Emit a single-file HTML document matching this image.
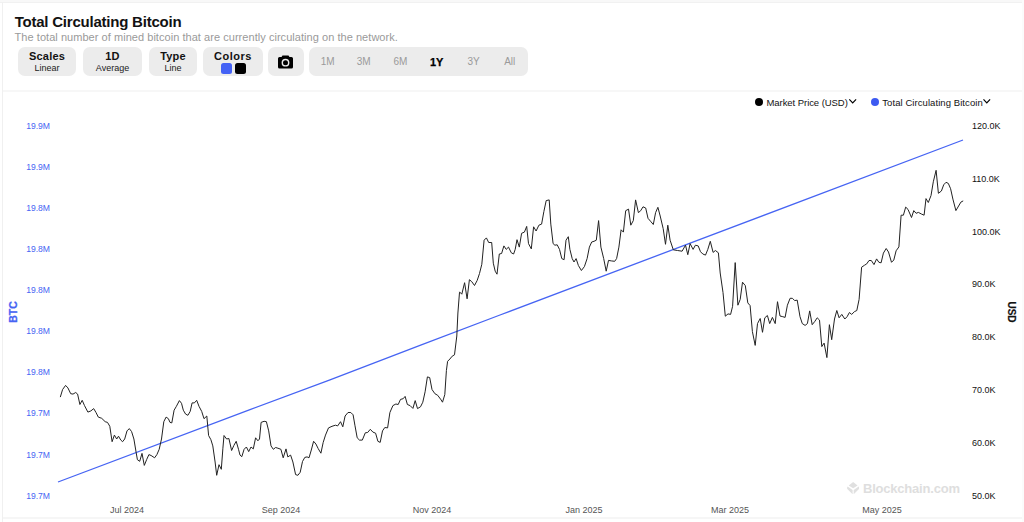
<!DOCTYPE html>
<html><head><meta charset="utf-8">
<style>
html,body{margin:0;padding:0;background:#fff;}
body{width:1024px;height:522px;position:relative;overflow:hidden;font-family:"Liberation Sans",sans-serif;}
.abs{position:absolute;}
.title{left:14.7px;top:13px;font-size:15px;font-weight:bold;color:#121212;letter-spacing:-0.22px;line-height:17px;white-space:nowrap;}
.sub{left:14.6px;top:31px;font-size:11px;letter-spacing:0.045px;color:#9a9a9a;line-height:13px;white-space:nowrap;}
.btn{top:47px;height:29px;background:#ececec;border-radius:7px;text-align:center;}
.btn b{display:block;font-size:11px;line-height:12px;margin-top:3px;color:#121212;letter-spacing:0.2px;}
.btn span{display:block;font-size:9px;line-height:10px;color:#222;margin-top:1px;}
.rng{top:56px;font-size:10px;color:#9a9a9a;line-height:12px;width:30px;text-align:center;}
.yl{left:25px;font-size:9px;color:#4664f3;line-height:10px;transform:scaleX(0.955);transform-origin:100% 50%;}
.yr{left:972px;font-size:9px;color:#121212;line-height:10px;}
.xl{top:505px;font-size:9px;color:#555;line-height:10px;width:60px;text-align:center;}
.lg{top:98px;font-size:9.5px;color:#121212;line-height:10px;white-space:nowrap;}
</style></head><body>
<div class="abs" style="left:0;top:0;width:1024px;height:2px;background:#f8f8f8"></div>
<div class="abs" style="left:0px;top:2px;width:1024px;height:1px;background:#f1f1f1"></div>
<div class="abs" style="left:2px;top:2px;width:1px;height:520px;background:#f0f0f0"></div>
<div class="abs" style="left:1022px;top:0;width:2px;height:522px;background:#fbfbfb"></div>
<div class="abs" style="left:3px;top:90px;width:1019px;height:2px;background:#f7f7f7"></div>
<div class="abs" style="left:3px;top:517px;width:1019px;height:2px;background:#f6f6f6"></div>

<div class="abs title">Total Circulating Bitcoin</div>
<div class="abs sub">The total number of mined bitcoin that are currently circulating on the network.</div>

<div class="abs btn" style="left:18px;width:58px"><b>Scales</b><span>Linear</span></div>
<div class="abs btn" style="left:83px;width:59px"><b>1D</b><span>Average</span></div>
<div class="abs btn" style="left:149px;width:48px"><b>Type</b><span>Line</span></div>
<div class="abs btn" style="left:203px;width:60px"><b style="letter-spacing:0.5px">Colors</b>
  <i class="abs" style="left:17.8px;top:16px;width:11px;height:11px;border-radius:2.5px;background:#4462f5"></i>
  <i class="abs" style="left:32.3px;top:16px;width:11px;height:11px;border-radius:2.5px;background:#000"></i>
</div>
<div class="abs btn" style="left:268px;width:36px">
<svg class="abs" style="left:10.1px;top:7.6px" width="15" height="14" viewBox="0 0 15 14"><path d="M4.5 0.5 L3.5 2 H1.5 A1.5 1.5 0 0 0 0 3.5 V12 A1.5 1.5 0 0 0 1.5 13.5 H13.5 A1.5 1.5 0 0 0 15 12 V3.5 A1.5 1.5 0 0 0 13.5 2 H11.5 L10.5 0.5 Z" fill="#000"/><circle cx="7.5" cy="7.7" r="3.9" fill="#ececec"/><circle cx="7.5" cy="7.7" r="2.5" fill="#000"/></svg>
</div>
<div class="abs btn" style="left:308.5px;width:219px"></div>
<div class="abs rng" style="left:312.7px">1M</div>
<div class="abs rng" style="left:348.7px">3M</div>
<div class="abs rng" style="left:385.5px">6M</div>
<div class="abs rng" style="left:421.7px;color:#000;font-weight:bold;font-size:11px;-webkit-text-stroke:0.25px #000">1Y</div>
<div class="abs rng" style="left:458.5px">3Y</div>
<div class="abs rng" style="left:494.7px">All</div>

<div class="abs" style="left:755px;top:98px;width:8px;height:8px;border-radius:50%;background:#000"></div>
<div class="abs lg" style="left:766.5px;letter-spacing:-0.06px">Market Price (USD)</div>
<div class="abs" style="left:871px;top:98px;width:8px;height:8px;border-radius:50%;background:#3d5af1"></div>
<div class="abs lg" style="left:882.3px;letter-spacing:0.07px">Total Circulating Bitcoin</div>
<svg class="abs" style="left:0;top:0" width="1024" height="522" viewBox="0 0 1024 522">
<path d="M849.3 99.3 l3.4 3.7 l3.4 -3.7" fill="none" stroke="#000" stroke-width="1.15"/>
<path d="M983.5 99.3 l3.3 3.7 l3.3 -3.7" fill="none" stroke="#000" stroke-width="1.15"/>
<polyline points="58,482 250,409.6 330,379.8 420,345.4 500,315 963,140" fill="none" stroke="#4664f3" stroke-width="1.3"/>
<polyline points="60.3,397.1 62.6,389.5 65.6,385.4 67.9,387.9 70.7,393.7 73.0,394.1 75.7,392.5 77.6,394.1 79.9,404.5 82.2,400.3 84.5,405.6 87.9,412.1 90.9,410.9 93.7,408.6 96.0,412.5 98.3,417.1 101.7,418.3 105.2,421.7 107.5,422.4 109.8,426.3 112.1,441.7 114.4,435.1 116.7,439.0 118.5,436.2 120.8,440.1 122.6,441.7 124.7,439.0 127.0,430.9 129.3,428.6 131.6,431.6 133.9,439.0 136.2,452.8 137.4,459.7 139.7,461.3 142.0,453.4 144.3,465.4 146.6,459.7 148.9,454.6 151.1,455.5 154.6,457.8 156.9,454.6 159.2,449.3 161.5,439.0 163.8,421.7 166.1,417.1 168.4,418.7 170.0,422.4 171.8,422.9 174.1,410.2 176.4,406.3 179.4,400.6 181.5,403.3 183.3,410.2 185.6,414.1 187.9,415.3 190.2,411.4 192.1,402.9 194.4,402.9 196.7,400.3 199.0,406.3 201.7,411.4 204.0,418.7 206.8,416.0 208.6,435.5 210.9,439.7 212.8,445.9 215.1,462.0 216.7,475.3 219.0,464.7 221.3,469.3 222.9,448.2 224.0,435.5 226.6,439.0 228.9,438.5 231.6,450.5 233.9,445.4 236.2,441.3 238.5,449.3 240.0,455.1 241.8,456.7 244.1,449.3 246.4,447.0 248.7,451.6 251.0,447.0 253.3,448.9 255.6,437.8 257.9,440.8 259.5,439.0 261.1,422.4 264.1,421.3 266.4,421.7 268.7,430.9 271.0,445.9 273.3,449.3 275.6,447.5 277.9,448.2 280.9,449.3 283.2,457.8 286.0,448.9 287.8,456.9 290.6,455.1 292.9,462.0 295.6,474.6 297.9,475.3 300.2,472.3 302.5,461.5 304.8,457.4 307.1,456.9 309.0,457.8 311.3,450.0 313.6,441.3 315.9,444.0 318.2,448.6 320.9,453.2 323.2,442.4 325.5,435.1 328.5,427.9 332.0,426.3 335.4,425.2 337.7,425.9 340.5,421.7 342.8,426.8 345.1,416.0 348.0,412.5 350.8,412.5 353.1,414.8 354.9,425.2 357.2,437.8 359.5,440.1 362.3,440.1 365.3,432.8 367.6,432.5 370.3,429.3 372.9,432.1 375.6,433.2 377.9,441.3 380.2,442.4 382.5,430.9 384.8,427.5 387.6,427.9 389.9,412.5 392.9,405.6 395.9,404.0 398.2,404.5 400.5,399.4 403.2,398.7 405.1,396.4 407.4,404.5 410.1,405.6 412.9,408.4 415.2,400.6 417.5,408.6 420.5,406.8 422.8,402.2 425.1,391.8 427.4,376.9 429.7,377.6 432.0,389.5 434.9,393.7 437.7,395.3 441.1,399.9 442.5,402.2 444.8,394.6 446.4,370.5 447.6,361.3 449.9,359.0 452.2,356.2 454.5,354.8 456.8,336.0 457.9,313.0 459.5,292.3 459.5,291.9 461.8,294.2 464.6,282.7 467.1,298.8 469.4,279.7 471.7,281.6 474.5,285.5 477.2,280.4 479.5,273.5 481.8,264.3 484.1,240.2 486.4,237.9 488.7,242.5 491.7,242.5 493.3,263.2 495.2,271.2 497.0,274.2 499.3,254.0 501.6,253.5 503.9,245.9 506.2,249.4 508.5,247.1 511.3,252.8 513.6,254.0 515.2,249.4 517.0,239.7 519.3,247.1 521.6,233.3 524.4,232.1 526.7,226.4 528.5,243.6 531.3,248.9 533.6,226.8 536.1,231.0 538.9,225.2 541.6,224.1 543.9,211.4 546.2,200.6 549.2,199.9 550.8,224.1 553.1,243.6 554.9,245.2 557.2,244.8 559.5,249.4 561.8,258.6 564.1,259.7 566.0,240.2 568.3,236.7 569.9,249.4 572.2,258.6 574.0,262.0 576.1,258.6 578.4,265.5 581.4,270.5 584.4,266.6 587.1,258.6 589.4,247.1 591.7,242.0 594.0,241.3 596.3,240.2 598.6,220.6 600.9,247.1 603.7,258.6 606.2,271.2 608.5,260.4 611.3,260.9 614.7,261.3 616.6,258.6 618.9,247.1 621.1,229.8 623.4,232.1 623.4,232.1 625.7,210.7 628.5,209.1 630.8,225.2 633.3,220.6 635.6,199.9 638.4,212.6 640.7,210.7 643.0,206.8 645.7,208.0 648.0,218.3 651.0,221.8 653.3,224.5 655.6,212.6 657.9,207.3 660.2,216.0 663.2,228.7 665.5,244.3 667.8,225.2 670.1,240.2 673.3,249.8 677.5,250.5 682.1,251.2 685.5,245.2 687.8,254.7 690.1,243.6 693.1,249.4 695.4,245.2 698.2,245.9 700.5,251.7 702.8,254.0 705.5,255.1 707.8,249.4 710.3,241.3 713.1,252.4 715.4,250.5 718.4,252.8 720.2,273.0 723.0,292.5 725.3,316.2 728.0,313.9 730.6,314.4 732.6,306.3 735.2,262.6 737.9,305.2 740.2,299.4 742.5,282.2 745.3,285.6 747.8,302.9 750.1,305.6 752.4,331.6 755.2,345.4 757.5,323.6 760.2,318.5 762.5,332.3 764.8,317.8 767.4,315.5 769.7,323.6 772.4,317.4 775.2,323.6 777.5,301.7 780.0,316.0 782.8,316.7 785.1,317.4 787.4,305.2 790.1,298.3 792.4,298.3 794.7,300.6 797.2,300.1 800.0,316.7 802.3,323.6 805.1,325.4 807.4,323.6 809.7,310.9 812.2,324.7 814.9,321.3 817.2,317.8 819.5,320.1 821.8,346.6 824.1,343.1 826.9,357.6 829.4,324.7 831.7,339.7 834.5,319.0 836.8,310.5 839.1,317.8 841.8,314.4 844.8,319.0 847.1,316.7 849.4,312.5 851.7,314.4 854.5,311.6 856.8,310.5 859.1,299.4 861.6,267.2 864.4,265.3 866.7,263.9 869.0,260.5 871.3,260.5 874.0,264.6 876.6,258.9 878.9,262.3 881.1,262.8 883.4,253.1 886.2,248.5 888.5,252.0 891.5,262.3 893.8,260.0 896.1,250.8 898.9,246.9 901.1,215.2 903.4,215.2 905.7,207.1 908.0,209.4 911.5,217.5 913.8,210.6 916.1,213.3 918.4,212.4 921.4,214.0 924.1,215.2 926.0,198.6 928.3,202.5 931.0,195.6 933.3,181.8 936.1,170.3 938.4,193.3 941.4,191.0 943.7,184.8 946.0,182.3 948.3,183.4 950.6,188.7 952.9,199.1 955.9,210.6 958.6,206.0 960.9,202.1 963.2,200.9" fill="none" stroke="#222" stroke-width="1" stroke-linejoin="round"/>
</svg>
<div class="abs yl" style="top:121px">19.9M</div>
<div class="abs yl" style="top:162px">19.9M</div>
<div class="abs yl" style="top:203px">19.8M</div>
<div class="abs yl" style="top:244px">19.8M</div>
<div class="abs yl" style="top:285px">19.8M</div>
<div class="abs yl" style="top:326px">19.8M</div>
<div class="abs yl" style="top:367px">19.8M</div>
<div class="abs yl" style="top:408px">19.7M</div>
<div class="abs yl" style="top:450px">19.7M</div>
<div class="abs yl" style="top:491px">19.7M</div>
<div class="abs yr" style="top:120.5px">120.0K</div>
<div class="abs yr" style="top:173.5px">110.0K</div>
<div class="abs yr" style="top:226.5px">100.0K</div>
<div class="abs yr" style="top:278.5px">90.0K</div>
<div class="abs yr" style="top:331.5px">80.0K</div>
<div class="abs yr" style="top:384.5px">70.0K</div>
<div class="abs yr" style="top:437.5px">60.0K</div>
<div class="abs yr" style="top:490.5px">50.0K</div>
<div class="abs xl" style="left:97px">Jul 2024</div>
<div class="abs xl" style="left:251px">Sep 2024</div>
<div class="abs xl" style="left:402px">Nov 2024</div>
<div class="abs xl" style="left:554px">Jan 2025</div>
<div class="abs xl" style="left:700px">Mar 2025</div>
<div class="abs xl" style="left:852px">May 2025</div>
<div class="abs" style="left:9px;top:311px;font-size:10.5px;font-weight:bold;color:#4664f3;transform:rotate(-90deg);transform-origin:left top;line-height:10px;width:24px;text-align:center;top:323.7px;left:8.2px;letter-spacing:-0.1px;-webkit-text-stroke:0.3px #4664f3">BTC</div>
<div class="abs" style="font-size:10px;font-weight:bold;color:#121212;transform:rotate(90deg);transform-origin:left top;line-height:10px;width:22px;text-align:center;top:300.7px;left:1016.3px;letter-spacing:-0.1px;-webkit-text-stroke:0.2px #121212">USD</div>
<div class="abs" style="left:863px;top:481px;font-size:13px;font-weight:bold;color:#dedede;line-height:15px;letter-spacing:-0.21px">Blockchain.com</div>
<svg class="abs" style="left:846.6px;top:482px" width="12.3" height="12.3" viewBox="0 0 12.3 12.3"><path d="M6.15 0 L10.6 3.4 L6.15 6.3 L1.7 3.4 Z M0.6 4.6 L5.6 7.9 V12.3 L0.3 6.9 Q-0.3 5.8 0.6 4.6 Z M11.7 4.6 L6.7 7.9 V12.3 L12 6.9 Q12.6 5.8 11.7 4.6 Z" fill="#e0e0e0"/></svg>
</body></html>
